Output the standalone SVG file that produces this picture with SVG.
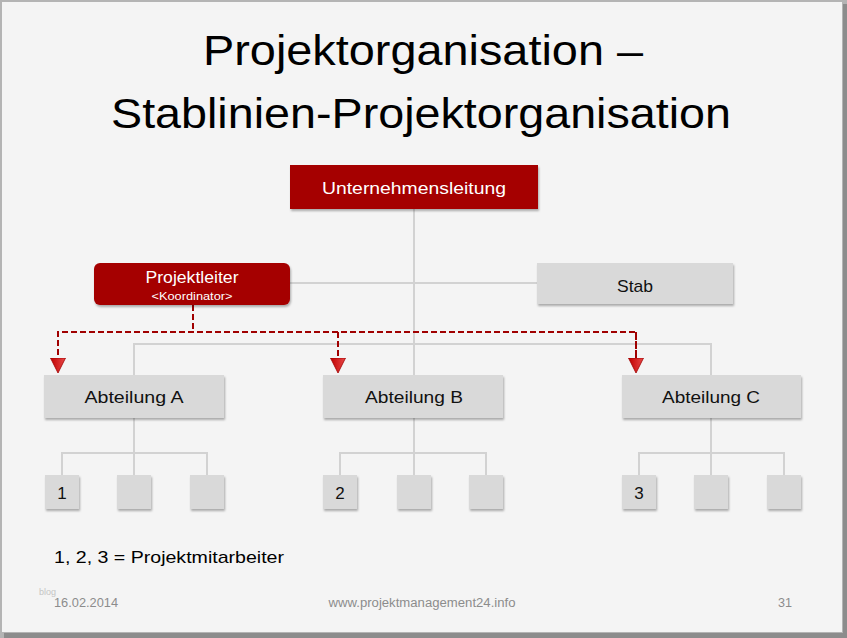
<svg xmlns="http://www.w3.org/2000/svg" width="847" height="638" viewBox="0 0 847 638">
  <style>
    text { font-family: "Liberation Sans", Arial, sans-serif; }
    .title { font-size: 42px; fill: #000; }
    .red { fill: #a50000; filter: url(#shadow); }
    .gray { fill: #d9d9d9; filter: url(#shadow); }
    .wt { fill: #fff; text-anchor: middle; }
    .bt { fill: #111; text-anchor: middle; font-size: 17px; }
    .conn { fill: none; stroke: #d2d2d2; stroke-width: 2; }
    .dash { fill: none; stroke: #a00000; stroke-width: 2; stroke-dasharray: 6 3; }
    .foot { fill: #8c8c8c; font-size: 12px; }
  </style>
  <defs>
    <filter id="shadow" x="-10%" y="-10%" width="130%" height="140%">
      <feDropShadow dx="1" dy="2" stdDeviation="1.2" flood-color="#000" flood-opacity="0.3"/>
    </filter>
    <linearGradient id="arrowGrad" x1="0" y1="0" x2="0" y2="1">
      <stop offset="0" stop-color="#e84848"/>
      <stop offset="1" stop-color="#c00000"/>
    </linearGradient>
    <marker id="arrow" markerUnits="userSpaceOnUse" markerWidth="16" markerHeight="16" refX="0" refY="7.5" orient="auto" viewBox="0 0 16 16">
      <path d="M0,0 L15,7.5 L0,15 Z" fill="url(#arrowGrad)" stroke="#a00000" stroke-width="0.8"/>
    </marker>
  </defs>

  <!-- frame -->
  <rect x="0" y="0" width="847" height="638" fill="#b4b4b4"/>
  <rect x="843" y="4" width="4" height="634" fill="#8c8c8c"/>
  <rect x="4" y="633" width="843" height="5" fill="#8c8c8c"/>
  <rect x="2" y="2" width="840" height="630" fill="#f4f4f4"/>

  <!-- title -->
  <text class="title" x="423" y="65" text-anchor="middle" textLength="440" lengthAdjust="spacingAndGlyphs">Projektorganisation –</text>
  <text class="title" x="421" y="128" text-anchor="middle" textLength="620" lengthAdjust="spacingAndGlyphs">Stablinien-Projektorganisation</text>

  <!-- connectors -->
  <g id="connectors">
    <path class="conn" d="M414,209 V375"/>
    <path class="conn" d="M290,283 H537"/>
    <path class="conn" d="M134,375 V344 H711 V375"/>
    <path class="conn" d="M134,418 V475 M62,475 V453 H207 V475"/>
    <path class="conn" d="M414,418 V475 M340,475 V453 H486 V475"/>
    <path class="conn" d="M711,418 V475 M639,475 V453 H784 V475"/>
    <path class="dash" d="M193,305 V332"/>
    <path class="dash" d="M636,358 V332 H58 V358" marker-end="url(#arrow)"/>
    <path class="dash" d="M636,332 V358" marker-end="url(#arrow)"/>
    <path class="dash" d="M338,332 V358" marker-end="url(#arrow)"/>
  </g>

  <g id="unternehmensleitung">
    <rect class="red" x="290" y="165" width="248" height="44"/>
    <text class="wt" x="414" y="194" font-size="17" textLength="184" lengthAdjust="spacingAndGlyphs">Unternehmensleitung</text>
  </g>

  <g id="projektleiter">
    <rect class="red" x="94" y="263" width="196" height="42" rx="6" ry="6"/>
    <text class="wt" x="192" y="283" font-size="16" textLength="93" lengthAdjust="spacingAndGlyphs">Projektleiter</text>
    <text class="wt" x="192" y="300" font-size="11" textLength="81" lengthAdjust="spacingAndGlyphs">&lt;Koordinator&gt;</text>
  </g>

  <g id="stab">
    <rect class="gray" x="537" y="263" width="196" height="41"/>
    <text class="bt" x="635" y="292" textLength="36" lengthAdjust="spacingAndGlyphs">Stab</text>
  </g>

  <g id="abteilung-a">
    <rect class="gray" x="44" y="375" width="180" height="43"/>
    <text class="bt" x="134" y="403" textLength="99" lengthAdjust="spacingAndGlyphs">Abteilung A</text>
  </g>
  <g id="abteilung-b">
    <rect class="gray" x="323" y="375" width="180" height="43"/>
    <text class="bt" x="414" y="403" textLength="98" lengthAdjust="spacingAndGlyphs">Abteilung B</text>
  </g>
  <g id="abteilung-c">
    <rect class="gray" x="622" y="375" width="179" height="43"/>
    <text class="bt" x="711" y="403" textLength="98" lengthAdjust="spacingAndGlyphs">Abteilung C</text>
  </g>

  <g id="a1"><rect class="gray" x="45" y="475" width="34" height="34"/><text class="bt" x="62" y="499">1</text></g>
  <g id="a2"><rect class="gray" x="117" y="475" width="34" height="34"/></g>
  <g id="a3"><rect class="gray" x="190" y="475" width="34" height="34"/></g>

  <g id="b1"><rect class="gray" x="323" y="475" width="34" height="34"/><text class="bt" x="340" y="499">2</text></g>
  <g id="b2"><rect class="gray" x="397" y="475" width="34" height="34"/></g>
  <g id="b3"><rect class="gray" x="469" y="475" width="34" height="34"/></g>

  <g id="c1"><rect class="gray" x="622" y="475" width="34" height="34"/><text class="bt" x="639" y="499">3</text></g>
  <g id="c2"><rect class="gray" x="694" y="475" width="34" height="34"/></g>
  <g id="c3"><rect class="gray" x="767" y="475" width="34" height="34"/></g>

  <!-- legend -->
  <text x="54" y="563" font-size="17" fill="#000" textLength="230" lengthAdjust="spacingAndGlyphs">1, 2, 3 = Projektmitarbeiter</text>

  <!-- footer -->
  <text x="39" y="595" font-size="9" fill="#c4c4c4">blog</text>
  <text class="foot" x="54" y="607" textLength="64" lengthAdjust="spacingAndGlyphs">16.02.2014</text>
  <text class="foot" x="422" y="607" text-anchor="middle" textLength="187" lengthAdjust="spacingAndGlyphs">www.projektmanagement24.info</text>
  <text class="foot" x="778" y="607" textLength="14" lengthAdjust="spacingAndGlyphs">31</text>
</svg>
